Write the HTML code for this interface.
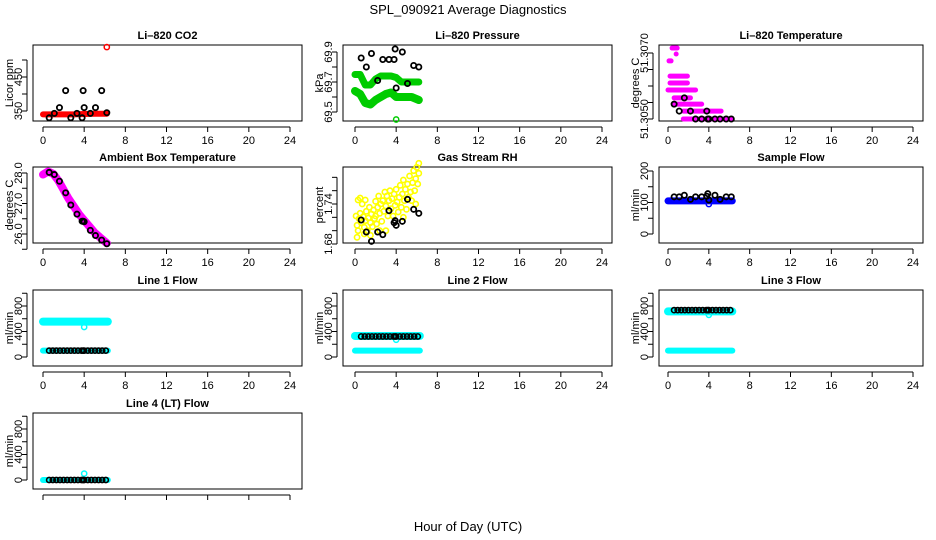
<!DOCTYPE html>
<html><head><meta charset="utf-8">
<style>
body{margin:0;background:#fff;}
svg{display:block;font-family:"Liberation Sans",Arial,sans-serif;}
</style></head>
<body>
<svg id="c" width="936" height="540" viewBox="0 0 936 540" xmlns="http://www.w3.org/2000/svg">
<text x="468" y="14" text-anchor="middle" font-size="13">SPL_090921  Average Diagnostics</text>
<text x="468" y="531" text-anchor="middle" font-size="13">Hour of Day (UTC)</text>
</svg>
<script>
// ---- data ----
var xTicks = [0,4,8,12,16,20,24];
var avgT = [0.6,1.1,1.6,2.2,2.7,3.3,3.8,3.9,4.0,4.6,5.1,5.7,6.2];
var flowAvgT = [0.6,0.95,1.3,1.65,2.0,2.35,2.7,3.05,3.4,3.75,3.9,4.0,4.35,4.7,5.05,5.4,5.75,6.1];

var co2BandT = [0,1,2,3,4,5,6.2];
var co2BandV = [340,340,340,340,341,342,342];
var co2Avg = [330,343,360,410,330,343,330,410,360,343,360,410,345];
var co2OutT = [6.2]; var co2OutV = [538];

var presUpT = [0,0.5,1,1.5,2,2.5,3,3.5,4,4.5,5,5.5,6.2];
var presUpV = [69.75,69.75,69.68,69.68,69.72,69.74,69.74,69.74,69.73,69.70,69.70,69.70,69.70];
var presLoT = [0,0.5,1,1.5,2,2.5,3,3.5,4,4.5,5,5.5,6.2];
var presLoV = [69.64,69.62,69.56,69.55,69.58,69.60,69.62,69.63,69.60,69.60,69.60,69.60,69.58];
var presAvg = [69.86,69.80,69.89,69.71,69.85,69.85,69.85,69.92,69.66,69.90,69.69,69.81,69.80];
var presOutT = [4.0]; var presOutV = [69.45];

var tempLevels = [51.3050,51.30524,51.30545,51.30564,51.30588,51.30609,51.30630,51.30676,51.30697,51.30715];
var tempStart = [1.5,1.5,0.6,0.6,0.0,0.2,0.2,0.1,0.8,0.4];
var tempEnd   = [6.2,5.2,3.3,2.2,2.7,1.9,1.9,0.3,0.8,0.9];
var tempAvgT = [1.1,2.2,3.8,0.6,1.6,2.7,3.3,3.9,4.0,4.6,5.1,5.7,6.2];
var tempAvgV = [51.30524,51.30524,51.30524,51.30545,51.30564,51.3050,51.3050,51.3050,51.3050,51.3050,51.3050,51.3050,51.3050];

var ambT = [0,0.5,1,1.5,2,2.5,3,3.5,4,4.5,5,5.5,6.2];
var ambV = [27.95,28.05,27.97,27.75,27.45,27.15,26.9,26.65,26.45,26.25,26.05,25.9,25.7];
var ambAvg = [28.02,27.95,27.73,27.35,26.95,26.65,26.42,26.42,26.40,26.12,25.95,25.8,25.68];

var rhT = [0.1,0.2,0.2,0.3,0.4,0.5,0.5,0.6,0.7,0.8,0.9,1.0,1.0,1.1,1.2,1.3,1.4,1.5,1.5,1.6,1.7,1.8,1.9,2.0,2.0,2.1,2.2,2.3,2.4,2.5,2.6,2.7,2.8,2.9,3.0,3.1,3.2,3.3,3.4,3.5,3.6,3.7,3.8,3.9,4.0,4.1,4.2,4.3,4.4,4.5,4.6,4.7,4.8,4.9,5.0,5.1,5.2,5.3,5.4,5.5,5.6,5.7,5.8,5.9,6.0,6.1,6.2,6.2,5.9,4.7,3.0,2.4,0.3,0.9];
var rhV = [1.722,1.690,1.708,1.746,1.718,1.749,1.726,1.712,1.740,1.721,1.705,1.715,1.746,1.729,1.700,1.719,1.735,1.712,1.693,1.725,1.706,1.731,1.718,1.744,1.722,1.710,1.735,1.752,1.726,1.740,1.714,1.745,1.729,1.758,1.737,1.752,1.722,1.745,1.760,1.733,1.748,1.722,1.755,1.738,1.762,1.743,1.728,1.750,1.768,1.735,1.755,1.776,1.745,1.762,1.732,1.770,1.750,1.782,1.758,1.745,1.772,1.790,1.760,1.778,1.795,1.770,1.801,1.786,1.740,1.720,1.700,1.700,1.700,1.695];
var rhAvg = [1.716,1.698,1.684,1.698,1.694,1.730,1.712,1.715,1.708,1.714,1.747,1.732,1.726];

var sfBandT = [0,6.3]; var sfBandV = [105,105];
var sfAvg = [118,118,123,110,118,118,120,128,108,123,110,118,118];
var sfOutT = [4.0]; var sfOutV = [95];

var l1HighV = [555,555]; var l1LowV = [100,100]; var l1AvgV = 100; var l1OutV = 470;
var l2HighV = [330,330]; var l2LowV = [100,100]; var l2AvgV = 322; var l2OutV = 270;
var l3HighV = [715,715]; var l3LowV = [100,100]; var l3AvgV = 735; var l3OutV = 660;
var l4LowV = [0,0]; var l4AvgV = 0; var l4OutV = 100;
var flowBandT = [0,6.3];

// ---- drawing ----
var svg = document.getElementById('c');
var NS = 'http://www.w3.org/2000/svg';
function mk(tag, attrs, parent){
  var e = document.createElementNS(NS, tag);
  for (var k in attrs) e.setAttribute(k, attrs[k]);
  (parent||svg).appendChild(e); return e;
}
var cols = [{l:33,r:302,x0:43,x24:290},{l:343,r:612,x0:355,x24:602},{l:659,r:923,x0:668,x24:913}];
var rows = [45,167,290,413]; var H = 76;

function panel(col,row,title,ylab,v0,p0,v1,p1,ticks,labels,slug){
  var c = cols[col], top = rows[row], bot = top+H;
  var g = mk('g',{});
  
  
  var P = {g:g, xs:function(t){return c.x0 + t*(c.x24-c.x0)/24;},
           ys:function(v){return p0 + (v-v0)*(p1-p0)/(v1-v0);}};
  var b = mk('rect',{x:c.l,y:top,width:c.r-c.l,height:H,fill:'none',stroke:'#000','stroke-width':1},g);
  
  
  var t = mk('text',{x:(c.l+c.r)/2,y:top-6,'text-anchor':'middle','font-size':11,'font-weight':'bold'},g);
  t.textContent = title;
  
  
  mk('line',{x1:P.xs(0),x2:P.xs(24),y1:bot+6,y2:bot+6,stroke:'#000'},g);
  xTicks.forEach(function(v){
    var x = P.xs(v);
    mk('line',{x1:x,x2:x,y1:bot+6,y2:bot+11,stroke:'#000'},g);
    if (row!==3){
      var tx = mk('text',{x:x,y:bot+23,'text-anchor':'middle','font-size':11},g);
      tx.textContent = v;
      
      
    }
  });
  var yl = c.l-6;
  mk('line',{x1:yl,x2:yl,y1:P.ys(ticks[0]),y2:P.ys(ticks[ticks.length-1]),stroke:'#000'},g);
  ticks.forEach(function(v){ var y=P.ys(v); mk('line',{x1:yl-5,x2:yl,y1:y,y2:y,stroke:'#000'},g); });
  labels.forEach(function(v){
    var y = P.ys(v);
    var tx = mk('text',{x:0,y:0,'text-anchor':'middle','font-size':11,transform:'translate('+(yl-5)+','+y+') rotate(-90)'},g);
    tx.textContent = v;
    
    
  });
  var yt = mk('text',{x:0,y:0,'text-anchor':'middle','font-size':11,transform:'translate('+(c.l-20)+','+(top+H/2)+') rotate(-90)'},g);
  yt.textContent = ylab;
  
  
  return P;
}
function band(P,ts,vs,color,w,name){
  var pts = ts.map(function(t,i){return P.xs(t)+','+P.ys(vs[i]);}).join(' ');
  var e = mk('polyline',{points:pts,fill:'none',stroke:color,'stroke-width':w,'stroke-linecap':'round','stroke-linejoin':'round'},P.g);
  
  
}
function pts(P,ts,vs,color,name,sw){
  ts.forEach(function(t,i){
    var e = mk('circle',{cx:P.xs(t),cy:P.ys(vs[i]),r:2.6,fill:'none',stroke:color,'stroke-width':sw||1.5},P.g);
    
    
  });
}

var p = panel(0,0,'Li\u2013820 CO2','Licor ppm',350,111,450,77,[350,400,450,500],[350,450],'co2');
band(p,co2BandT,co2BandV,'#ff0000',6,'co2-band');
pts(p,co2OutT,co2OutV,'#ff0000','co2-outlier');
pts(p,avgT,co2Avg,'#000','co2-hourly-avg',1.8);

p = panel(1,0,'Li\u2013820 Pressure','kPa',69.5,112,69.9,52,[69.5,69.6,69.7,69.8,69.9],[69.5,69.7,69.9],'pressure');
band(p,presUpT,presUpV,'#00cc00',7,'pressure-upper-band');
band(p,presLoT,presLoV,'#00cc00',8,'pressure-lower-band');
pts(p,presOutT,presOutV,'#00cc00','pressure-outlier');
pts(p,avgT,presAvg,'#000','pressure-hourly-avg',1.8);

p = panel(2,0,'Li\u2013820 Temperature','degrees C',51.3050,119,51.3070,53,[51.3050,51.3055,51.3060,51.3065,51.3070],['51.3050','51.3070'],'li-temp');
tempLevels.forEach(function(v,i){
  band(p,[tempStart[i],tempEnd[i]],[v,v],'#ff00ff',5,'li-temp-run');
});
pts(p,tempAvgT,tempAvgV,'#000','li-temp-hourly-avg',1.8);

p = panel(0,1,'Ambient Box Temperature','degrees C',26.0,234,28.0,173,[25.5,26.0,26.5,27.0,27.5,28.0],['26.0','27.0','28.0'],'ambient');
band(p,ambT,ambV,'#ff00ff',8,'ambient-band');
pts(p,avgT,ambAvg,'#000','ambient-hourly-avg',1.8);

p = panel(1,1,'Gas Stream RH','percent',1.68,244,1.74,204,[1.68,1.70,1.72,1.74,1.76,1.78],['1.68','1.74'],'rh');
pts(p,rhT,rhV,'#ffff00','rh-sample',1.6);
pts(p,avgT,rhAvg,'#000','rh-hourly-avg',1.8);

p = panel(2,1,'Sample Flow','ml/min',0,234,200,171,[0,50,100,150,200],[0,100,200],'sample-flow');
band(p,sfBandT,sfBandV,'#0000ff',7,'sample-flow-band');
pts(p,sfOutT,sfOutV,'#0000ff','sample-flow-outlier');
pts(p,avgT,sfAvg,'#000','sample-flow-hourly-avg',1.8);

var fTicks=[0,200,400,600,800,1000], fLabels=[0,400,800];
function flowPanel(col,row,title,slug,hi,lo,avgV,outV){
  var base = rows[row]+67;
  var P = panel(col,row,title,'ml/min',0,base,800,base-51,fTicks,fLabels,slug);
  if (hi) band(P,flowBandT,hi,'#00ffff',8,slug+'-high-band');
  band(P,flowBandT,lo,'#00ffff',6,slug+'-low-band');
  pts(P,[4.0],[outV],'#00ffff',slug+'-outlier');
  pts(P,flowAvgT,flowAvgT.map(function(){return avgV;}),'#000',slug+'-hourly-avg',1.6);
}
flowPanel(0,2,'Line 1 Flow','line1-flow',l1HighV,l1LowV,l1AvgV,l1OutV);
flowPanel(1,2,'Line 2 Flow','line2-flow',l2HighV,l2LowV,l2AvgV,l2OutV);
flowPanel(2,2,'Line 3 Flow','line3-flow',l3HighV,l3LowV,l3AvgV,l3OutV);
flowPanel(0,3,'Line 4 (LT) Flow','line4-flow',null,l4LowV,l4AvgV,l4OutV);
</script>
</body></html>
